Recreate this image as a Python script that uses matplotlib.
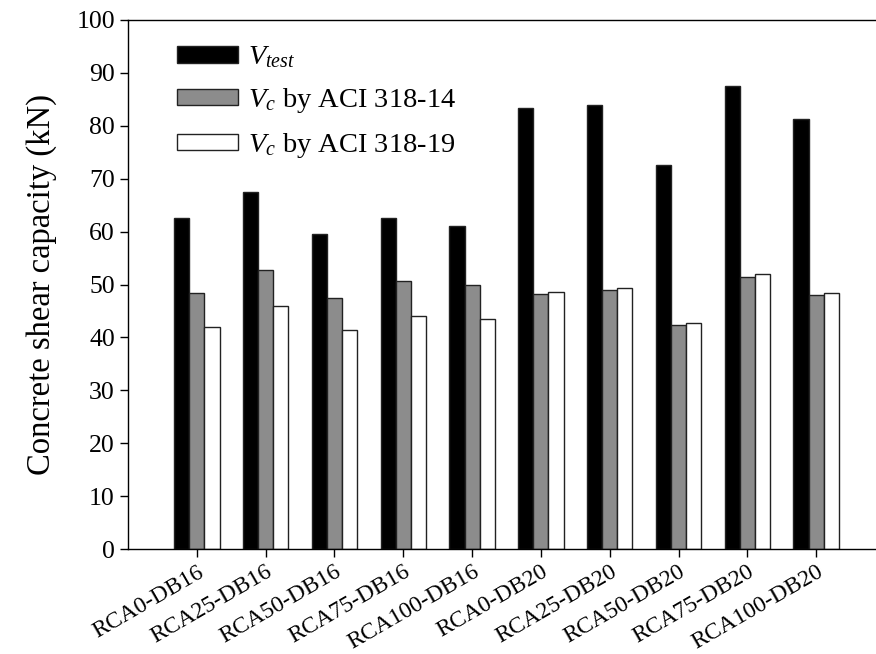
import matplotlib
matplotlib.use("Agg")
import matplotlib.pyplot as plt
import numpy as np

plt.rcParams['font.family'] = 'Liberation Serif'
plt.rcParams['mathtext.fontset'] = 'custom'
plt.rcParams['mathtext.rm'] = 'Liberation Serif'
plt.rcParams['mathtext.it'] = 'Liberation Serif:italic'

specimens = ['RCA0-DB16', 'RCA25-DB16', 'RCA50-DB16', 'RCA75-DB16', 'RCA100-DB16',
             'RCA0-DB20', 'RCA25-DB20', 'RCA50-DB20', 'RCA75-DB20', 'RCA100-DB20']
v_test = [62.5, 67.5, 59.5, 62.5, 61.0, 83.3, 83.9, 72.5, 87.5, 81.2]
vc_aci14 = [48.3, 52.8, 47.5, 50.7, 49.9, 48.2, 48.9, 42.4, 51.5, 48.0]
vc_aci19 = [42.0, 46.0, 41.4, 44.1, 43.4, 48.6, 49.4, 42.8, 52.0, 48.4]

fig = plt.figure(figsize=(8.76, 6.54), dpi=100)
ax = fig.add_axes([128 / 876, 105 / 654, 757 / 876, 529 / 654])

x = np.arange(1, len(specimens) + 1)
w = 0.22
ax.bar(x - w, v_test, w, color='black', edgecolor='#222222', linewidth=1, label='$V_{test}$')
ax.bar(x, vc_aci14, w, color='#8c8c8c', edgecolor='#222222', linewidth=1, label='$V_c$ by ACI 318-14')
ax.bar(x + w, vc_aci19, w, color='white', edgecolor='#222222', linewidth=1, label='$V_c$ by ACI 318-19')

ax.set_xlim(0, 11)
ax.set_ylim(0, 100)
ax.set_yticks(np.arange(0, 101, 10))
ax.set_xticks(x)
ax.set_xticklabels(specimens, rotation=30, ha='right', rotation_mode='anchor')
ax.tick_params(axis='both', direction='out', length=6, width=1)
ax.tick_params(axis='y', labelsize=18.5)
ax.tick_params(axis='x', labelsize=17, pad=3)
ax.spines['right'].set_visible(False)
for s in ['left', 'bottom', 'top']:
    ax.spines[s].set_linewidth(1)

ax.set_ylabel('Concrete shear capacity (kN)', fontsize=23.5, labelpad=14)

ax.legend(loc='upper left', bbox_to_anchor=(0.05, 0.975), frameon=False, fontsize=20.5,
          handlelength=2.15, handleheight=0.5, handletextpad=0.35, labelspacing=0.56,
          borderaxespad=0)

fig.savefig('out.png', dpi=100)
